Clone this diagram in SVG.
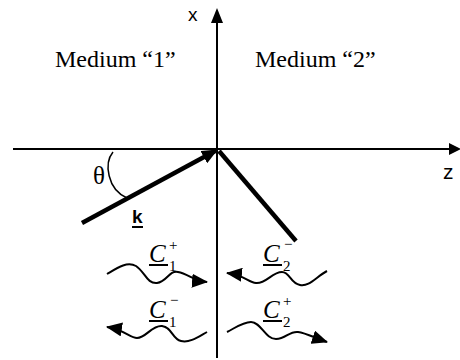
<svg xmlns="http://www.w3.org/2000/svg" width="460" height="360" viewBox="0 0 460 360">
<style>
.ax{stroke:#000;stroke-width:2;fill:none}
.vec{stroke:#000;stroke-width:4.5;fill:none}
.wave{stroke:#000;stroke-width:2;fill:none}
.med{font-family:"Liberation Serif",serif;font-size:24px;fill:#000}
.lbl{font-family:"Liberation Sans",sans-serif;font-size:19px;fill:#000}
.ci{font-family:"Liberation Serif",serif;font-style:italic;font-size:25px;fill:#000}
.cs{font-family:"Liberation Serif",serif;font-size:15px;fill:#000}
.ul{stroke:#000;stroke-width:2}
</style>
<defs>
<marker id="wa" viewBox="0 0 16 14" markerWidth="16" markerHeight="14" refX="15" refY="7" orient="auto" markerUnits="userSpaceOnUse">
<path d="M0,0 L16,7 L0,14 z" fill="#000"/>
</marker>
<marker id="ka" viewBox="0 0 16 14" markerWidth="16" markerHeight="14" refX="15" refY="7" orient="auto" markerUnits="userSpaceOnUse">
<path d="M0,0 L16,7 L0,14 z" fill="#000"/>
</marker>
</defs>
<g id="connectors">
<line class="ax" x1="217" y1="20" x2="217" y2="358"/>
<polygon points="217,8 211,23 223,23" fill="#000"/>
<line class="ax" x1="13" y1="149" x2="450" y2="149"/>
<polygon points="461,149 449,143 449,155" fill="#000"/>
<line class="vec" x1="82" y1="223" x2="217" y2="150" marker-end="url(#ka)"/>
<line class="vec" x1="219" y1="151" x2="296" y2="241"/>
<path class="ax" d="M113,152 C104,163 107,189 127,198" style="stroke-width:1.5"/>
<path class="wave" d="M107,274 C117,268 127,261 136,266 C145,272 147,284 157,283 C167,282 169,270 178,272 C188,274 195,281 207,282" marker-end="url(#wa)"/>
<path class="wave" d="M327,271 C316,277 309,287 300,285 C290,283 290,272 282,272 C272,272 266,284 256,283 C248,282 244,275 227,273" marker-end="url(#wa)"/>
<path class="wave" d="M207,332 C198,337 190,343 181,341 C172,339 172,327 162,326 C152,325 146,338 137,338 C130,338 125,330 107,327" marker-end="url(#wa)"/>
<path class="wave" d="M227,332 C235,328 243,322 251,322 C261,322 265,339 276,339 C286,339 289,331 298,332 C306,333 315,338 327,342" marker-end="url(#wa)"/>
</g>
<g id="medium1"><text class="med" x="55" y="67">Medium “1”</text></g>
<g id="medium2"><text class="med" x="255" y="67">Medium “2”</text></g>
<g id="xlabel"><text class="lbl" x="188" y="21">x</text></g>
<g id="zlabel"><text class="lbl" x="443" y="179" style="font-size:21px">z</text></g>
<g id="theta"><text class="med" x="93" y="184" style="font-size:25px">θ</text></g>
<g id="k"><text class="lbl" x="132" y="223" style="font-weight:bold">k</text><line class="ul" x1="132" y1="227" x2="143" y2="227"/></g>
<g id="c1p"><text class="ci" x="149" y="262">C</text><line class="ul" x1="149" y1="265" x2="168" y2="265"/><text class="cs" x="169" y="271">1</text><text class="cs" x="169" y="250">+</text></g>
<g id="c2m"><text class="ci" x="263" y="262">C</text><line class="ul" x1="263" y1="265" x2="282" y2="265"/><text class="cs" x="283" y="271">2</text><text class="cs" x="284" y="249">−</text></g>
<g id="c1m"><text class="ci" x="149" y="318">C</text><line class="ul" x1="149" y1="321" x2="168" y2="321"/><text class="cs" x="169" y="327">1</text><text class="cs" x="170" y="305">−</text></g>
<g id="c2p"><text class="ci" x="263" y="318">C</text><line class="ul" x1="263" y1="321" x2="282" y2="321"/><text class="cs" x="283" y="327">2</text><text class="cs" x="283" y="306">+</text></g>
</svg>
